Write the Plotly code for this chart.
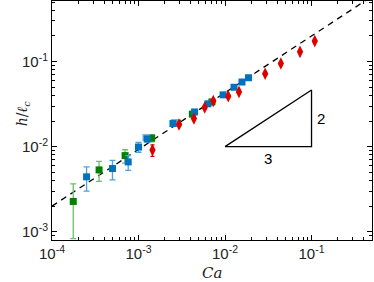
import plotly.graph_objects as go
import numpy as np

# Green squares
green_x = [1.76e-4, 3.5e-4, 7.0e-4, 1.42e-3, 2.84e-3, 4.19e-3, 7.06e-3]
green_y = [2.27e-3, 5.33e-3, 7.85e-3, 1.26e-2, 1.89e-2, 2.41e-2, 3.36e-2]
green_hi = [3.66e-3, 6.7e-3, 9.2e-3, 1.38e-2, 1.95e-2, 2.48e-2, 3.45e-2]
green_lo = [8.3e-4, 3.9e-3, 6.4e-3, 1.14e-2, 1.83e-2, 2.34e-2, 3.27e-2]

# Blue squares
blue_x = [2.51e-4, 5.0e-4, 7.6e-4, 1.0e-3, 1.26e-3, 2.5e-3, 4.45e-3, 6.35e-3, 9.5e-3, 1.27e-2, 1.57e-2, 1.87e-2]
blue_y = [4.42e-3, 5.53e-3, 6.62e-3, 9.9e-3, 1.23e-2, 1.87e-2, 2.56e-2, 3.19e-2, 4.06e-2, 4.99e-2, 5.75e-2, 6.46e-2]
blue_hi = [5.8e-3, 6.9e-3, 7.85e-3, 1.12e-2, 1.33e-2, 1.95e-2, 2.63e-2, 3.26e-2, 4.14e-2, 5.08e-2, 5.85e-2, 6.56e-2]
blue_lo = [3.0e-3, 4.07e-3, 5.25e-3, 8.6e-3, 1.14e-2, 1.8e-2, 2.49e-2, 3.12e-2, 3.98e-2, 4.9e-2, 5.65e-2, 6.36e-2]

# Light blue squares
lblue_x = [1.22e-3, 2.6e-3]
lblue_y = [1.28e-2, 1.92e-2]

# Red diamonds
red_x = [1.45e-3, 2.94e-3, 4.37e-3, 5.82e-3, 7.31e-3, 1.09e-2, 1.45e-2, 2.91e-2, 4.42e-2, 7.36e-2, 0.109]
red_y = [9.15e-3, 1.82e-2, 2.14e-2, 2.88e-2, 3.44e-2, 3.92e-2, 4.4e-2, 7.2e-2, 9.5e-2, 0.13, 0.174]
red_hi = [1.05e-2, 1.9e-2, 2.23e-2, 3.0e-2, 3.57e-2, 4.07e-2, 4.57e-2, 7.45e-2, 9.8e-2, 0.134, 0.179]
red_lo = [7.7e-3, 1.74e-2, 2.05e-2, 2.76e-2, 3.31e-2, 3.77e-2, 4.23e-2, 6.95e-2, 9.2e-2, 0.126, 0.169]

# Fit line h/lc = A * Ca^(2/3)
fit_A = 0.928
fit_exp = 2.0 / 3.0
fit_range = [1e-4, 0.55]

# Slope triangle
tri_x = [0.01, 0.1, 0.1, 0.01]
tri_y = [0.01, 0.01, 10 ** (-4 / 3), 0.01]

tickvals_x = [1e-4, 1e-3, 1e-2, 1e-1]
ticktext_x = ["10<sup>-4</sup>", "10<sup>-3</sup>", "10<sup>-2</sup>", "10<sup>-1</sup>"]
tickvals_y = [1e-3, 1e-2, 1e-1]
ticktext_y = ["10<sup>-3</sup>", "10<sup>-2</sup>", "10<sup>-1</sup>"]

minor_x = [m * 10.0 ** e for e in range(-4, 0) for m in range(2, 10)]
minor_y = [m * 10.0 ** e for e in range(-4, 0) for m in range(2, 10)]


def err(y, hi, lo):
    return ([h - v for h, v in zip(hi, y)], [v - l for v, l in zip(y, lo)])


fig = go.Figure()

fx = np.logspace(np.log10(fit_range[0]), np.log10(fit_range[1]), 50)
fig.add_trace(go.Scatter(x=fx, y=fit_A * fx ** fit_exp, mode="lines",
                         line=dict(color="black", width=1.3, dash="6px,5px"),
                         hoverinfo="skip"))

up, dn = err(green_y, green_hi, green_lo)
fig.add_trace(go.Scatter(x=green_x, y=green_y, mode="markers",
                         marker=dict(symbol="square", size=7, color="#008000"),
                         error_y=dict(type="data", symmetric=False, array=up, arrayminus=dn,
                                      color="#6cbf6c", thickness=1.3, width=3)))

fig.add_trace(go.Scatter(x=lblue_x, y=lblue_y, mode="markers",
                         marker=dict(symbol="square", size=7, color="#6fb4e6")))

up, dn = err(blue_y, blue_hi, blue_lo)
fig.add_trace(go.Scatter(x=blue_x, y=blue_y, mode="markers",
                         marker=dict(symbol="square", size=7, color="#0072BD"),
                         error_y=dict(type="data", symmetric=False, array=up, arrayminus=dn,
                                      color="#4aa3e0", thickness=1.3, width=3)))

up, dn = err(red_y, red_hi, red_lo)
fig.add_trace(go.Scatter(x=red_x, y=red_y, mode="markers",
                         marker=dict(symbol="diamond-tall", size=9, color="#DD0000"),
                         error_y=dict(type="data", symmetric=False, array=up, arrayminus=dn,
                                      color="#DD0000", thickness=1.3, width=2)))

fig.add_trace(go.Scatter(x=tri_x, y=tri_y, mode="lines",
                         line=dict(color="black", width=1.3), hoverinfo="skip"))

fig.add_annotation(x=-1.5, y=-2, xref="x", yref="y", text="3", showarrow=False,
                   yshift=-12, font=dict(family="Liberation Sans, Arial", size=15, color="black"))
fig.add_annotation(x=-1, y=-5 / 3, xref="x", yref="y", text="2", showarrow=False,
                   xshift=9, font=dict(family="Liberation Sans, Arial", size=15, color="black"))

# axis titles as annotations
fig.add_annotation(x=0.5, y=-0.138, xref="paper", yref="paper", yanchor="middle", text="<i>Ca</i>",
                   showarrow=False, font=dict(family="DejaVu Serif", size=15, color="#222"))
fig.add_annotation(x=-0.125, y=0.53, xref="paper", yref="paper", text="<i>h</i>/<i>ℓ<sub>c</sub></i>",
                   textangle=-90, showarrow=False, font=dict(family="DejaVu Serif", size=14, color="#222"))

axis_common = dict(type="log", showline=True, linecolor="black", linewidth=1, mirror="allticks",
                   ticks="inside", ticklen=5, tickcolor="black", showgrid=False, zeroline=False,
                   automargin=False,
                   tickfont=dict(family="Liberation Sans, Arial", size=15, color="#222"))

fig.update_xaxes(range=[-4, np.log10(0.5)], tickvals=tickvals_x, ticktext=ticktext_x,
                 minor=dict(ticks="inside", ticklen=3, tickcolor="black", showgrid=False,
                            tickvals=minor_x),
                 **axis_common)
fig.update_yaxes(range=[np.log10(8e-4), np.log10(0.515)], tickvals=tickvals_y, ticktext=ticktext_y,
                 minor=dict(ticks="inside", ticklen=3, tickcolor="black", showgrid=False,
                            tickvals=minor_y),
                 **axis_common)

fig.update_layout(width=374, height=282, margin=dict(l=52, r=2, t=1, b=42),
                  paper_bgcolor="white", plot_bgcolor="white", showlegend=False)

fig.write_html("out.html", config={"displayModeBar": False},
               post_script="document.body.style.margin='0';document.body.style.overflow='hidden';")
